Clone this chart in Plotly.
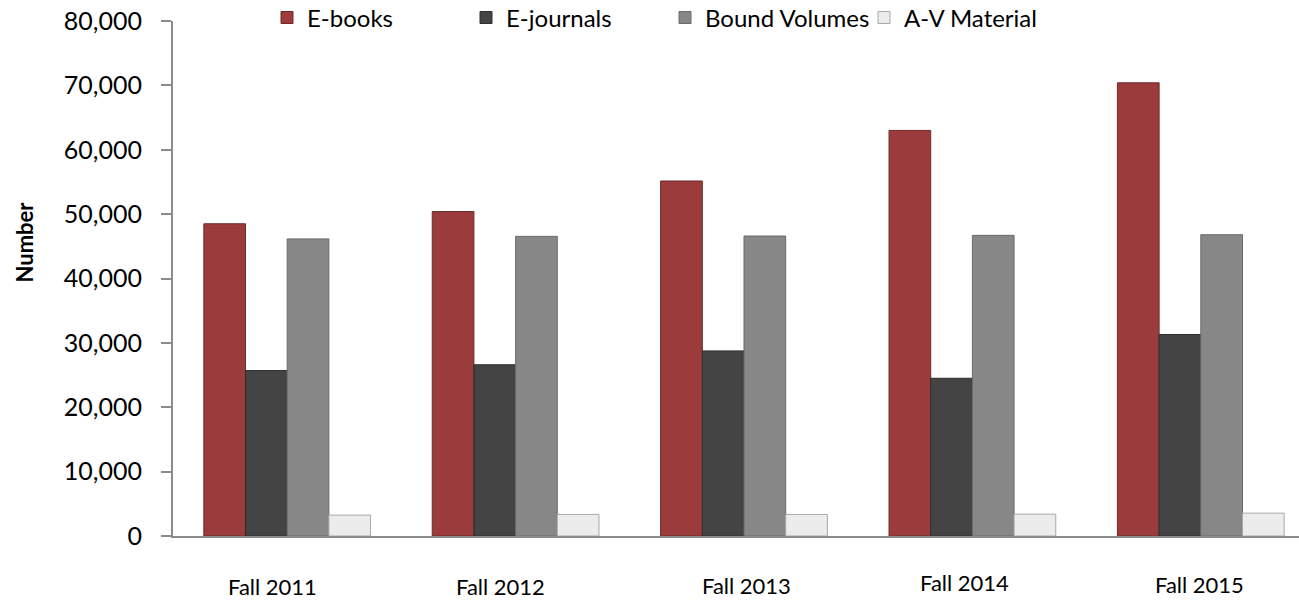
import plotly.graph_objects as go

# Collection counts per fall term
terms = ["Fall 2011", "Fall 2012", "Fall 2013", "Fall 2014", "Fall 2015"]
ebooks = [48500, 50400, 55150, 63000, 70400]
ejournals = [25700, 26600, 28750, 24500, 31300]
bound_volumes = [46150, 46550, 46600, 46700, 46800]
av_material = [3250, 3350, 3350, 3400, 3550]

y_ticks = [0, 10000, 20000, 30000, 40000, 50000, 60000, 70000, 80000]
y_tick_text = ["0", "10,000", "20,000", "30,000", "40,000", "50,000", "60,000", "70,000", "80,000"]

FONT = "Lato, Open Sans, sans-serif"

series = [
    ("E-books", ebooks, "#9c3b3b", "#6e2a2a"),
    ("E-journals", ejournals, "#444444", "#2e2e2e"),
    ("Bound Volumes", bound_volumes, "#878787", "#6a6a6a"),
    ("A-V Material", av_material, "#ececec", "#a8a8a8"),
]

fig = go.Figure()
for name, vals, fill, edge in series:
    fig.add_trace(go.Bar(
        name=name,
        x=terms,
        y=vals,
        marker=dict(color=fill, line=dict(color=edge, width=1)),
    ))

# Category labels sit slightly irregularly under each group
label_dx = [-15, -15, 3, -8, -1]
label_dy = [-50, -50, -49, -46, -48]
for term, dx, dy in zip(terms, label_dx, label_dy):
    fig.add_annotation(
        x=term, xref="x", y=0, yref="paper",
        yanchor="middle",
        text=term, showarrow=False,
        xshift=dx, yshift=dy,
        font=dict(family=FONT, size=22, color="#000000"),
    )

# Rotated axis title
fig.add_annotation(
    x=-149 / 1126, xref="paper", y=0.57, yref="paper",
    text="<b>Number</b>", showarrow=False, textangle=-90,
    xanchor="center", yanchor="middle",
    font=dict(family=FONT, size=22, color="#000000"),
)

fig.update_layout(
    width=1299, height=600,
    margin=dict(l=173, r=0, t=21, b=64, pad=0, autoexpand=False),
    paper_bgcolor="white", plot_bgcolor="white",
    barmode="group", bargap=0.27, bargroupgap=0,
    font=dict(family=FONT, size=25, color="#000000"),
    showlegend=True,
    legend=dict(
        orientation="h",
        x=(285 - 173 - 18) / 1126, xanchor="left",
        y=1.006, yanchor="middle",
        font=dict(family=FONT, size=24, color="#000000"),
        bgcolor="rgba(0,0,0,0)",
        entrywidth=154, entrywidthmode="pixels",
        traceorder="normal",
    ),
    xaxis=dict(
        type="category",
        range=[-0.5, 4.43],
        showticklabels=False,
        ticks="",
        showline=True, linecolor="#8c8c8c", linewidth=2,
        showgrid=False, zeroline=False,
        fixedrange=True,
    ),
    yaxis=dict(
        range=[0, 80000],
        tickvals=y_ticks, ticktext=y_tick_text,
        ticks="outside", ticklen=10, tickwidth=2, tickcolor="#8c8c8c",
        ticklabelstandoff=14,
        showline=True, linecolor="#8c8c8c", linewidth=2,
        showgrid=False, zeroline=False,
        tickfont=dict(family=FONT, size=25, color="#000000"),
    ),
)

fig.write_html("out.html")
